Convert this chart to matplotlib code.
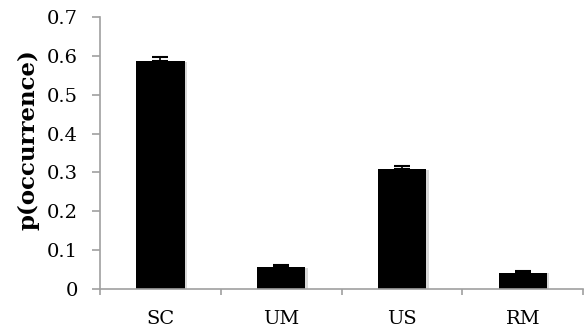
import matplotlib
matplotlib.use("Agg")
import matplotlib.pyplot as plt
import numpy as np

categories = ["SC", "UM", "US", "RM"]
values = [0.587, 0.056, 0.309, 0.042]
errors = [0.009, 0.006, 0.008, 0.005]

plt.rcParams['font.family'] = ['DejaVu Serif']

fig = plt.figure(figsize=(5.85, 3.33), dpi=100)
ax = fig.add_axes([0.171, 0.132, 0.826, 0.817])
x = np.arange(len(categories))
# subtle shadow
ax.bar(x + 0.02, values, width=0.4, color="#d8d8d8", zorder=1, bottom=-0.002)
ax.bar(x, values, width=0.4, color="black", zorder=2)
ax.errorbar(x, values, yerr=[np.zeros(len(errors)), errors], fmt="none",
            ecolor="black", elinewidth=1.2, capsize=6, capthick=1.5, zorder=3)

ax.set_xlim(-0.5, len(categories) - 0.5)
ax.set_ylim(0, 0.7)
ax.set_yticks(np.arange(0, 0.71, 0.1))
ax.set_yticklabels(["0"] + [f"{v:.1f}" for v in np.arange(0.1, 0.71, 0.1)])
ax.set_xticks(x)
ax.set_xticklabels(categories)
ax.set_xticks(np.arange(-0.5, len(categories), 1.0), minor=True)
ax.tick_params(axis="x", which="major", length=0, pad=15, labelsize=14)
ax.tick_params(axis="x", which="minor", length=4.5, direction="out", color="#a0a0a0", width=1.2)
ax.tick_params(axis="y", length=5.8, direction="out", color="#a0a0a0", width=1.2, labelsize=14, pad=10)
for s in ["top", "right"]:
    ax.spines[s].set_visible(False)
for s in ["left", "bottom"]:
    ax.spines[s].set_color("#a0a0a0")
    ax.spines[s].set_linewidth(1.2)
ax.set_ylabel("p(occurrence)", fontsize=16.5, fontweight="bold")
ax.yaxis.label.set_va("center")
ax.yaxis.set_label_coords(-0.149, 0.548)

fig.savefig("out.png", dpi=100)
